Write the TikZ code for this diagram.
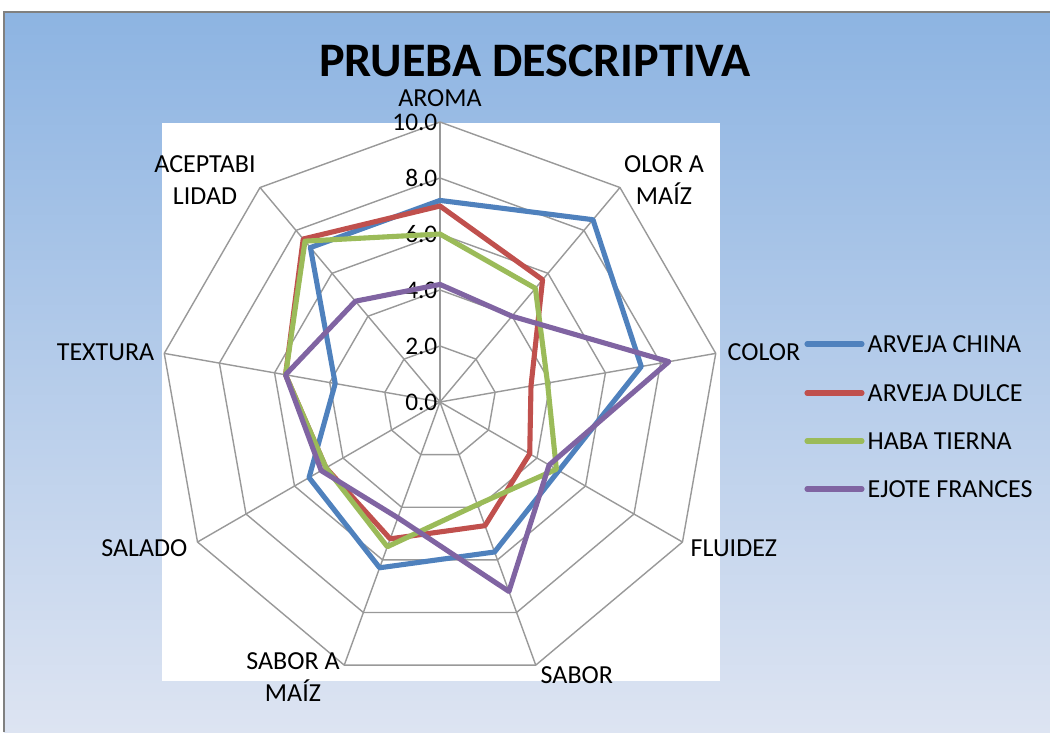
\documentclass[tikz,border=0pt]{standalone}
\usepackage{fontspec}
\setmainfont{Carlito}
\definecolor{azul}{HTML}{4F81BD}
\definecolor{rojo}{HTML}{C0504D}
\definecolor{verde}{HTML}{9BBB59}
\definecolor{morado}{HTML}{8064A2}
\definecolor{fondoarriba}{RGB}{141,180,226}
\definecolor{fondoabajo}{RGB}{221,228,242}
\tikzset{
    rejilla/.style={black!40, line width=0.4pt},
    serie/.style={line width=1.45pt, line join=round},
    eje/.style={font=\fontsize{7.4}{9.1}\selectfont, inner sep=0pt, align=center},
    escala/.style={font=\fontsize{7.2}{8}\selectfont, inner sep=0pt, anchor=east},
    leyenda/.style={font=\fontsize{7.4}{9}\selectfont, inner sep=0pt, anchor=west}
}
\begin{document}
\begin{tikzpicture}
    \def\u{0.28} % cm per unit of the scale
    \def\rmax{2.8} % radius of 10.0

    % frame and background
    \useasboundingbox (-4.40,-3.30) rectangle (6.10,4.02);
    \shade[top color=fondoarriba, bottom color=fondoabajo] (-4.36,-3.30) rectangle (6.10,3.90);
    \draw[black!50, line width=0.6pt] (-4.36,-3.30) -- (-4.36,3.90) -- (6.10,3.90);
    \fill[white] (-2.78,-2.79) rectangle (2.80,2.79);

    % grid
    \foreach \k in {0,...,8} {
        \draw[rejilla] (0,0) -- ({90-40*\k}:\rmax);
    }
    \foreach \v in {2,4,...,10} {
        \draw[rejilla] (90:{\v*\u}) \foreach \k in {1,...,8} { -- ({90-40*\k}:{\v*\u}) } -- cycle;
    }
    \foreach \v/\t in {0/0.0,2/2.0,4/4.0,6/6.0,8/8.0,10/10.0} {
        \node[escala] at (-0.02,{\v*\u}) {\t};
    }

    % axis labels
    \node[eje, text depth=0pt] (aroma) at (0,3.04) {AROMA};
    \node[eje] (olor) at (2.24,2.22) {OLOR A\\MAÍZ};
    \node[eje, anchor=west] (color) at (2.87,0.50) {COLOR};
    \node[eje, anchor=west] (fluidez) at (2.50,-1.46) {FLUIDEZ};
    \node[eje, anchor=west] (sabor) at (1.00,-2.73) {SABOR};
    \node[eje] (sabormaiz) at (-1.47,-2.75) {SABOR A\\MAÍZ};
    \node[eje, anchor=east] (salado) at (-2.52,-1.46) {SALADO};
    \node[eje, anchor=east] (textura) at (-2.85,0.50) {TEXTURA};
    \node[eje] (aceptab) at (-2.35,2.22) {ACEPTABI\\LIDAD};

    % title
    \node[font=\fontsize{13.7}{16}\selectfont\bfseries, inner sep=0pt, text depth=0pt, anchor=base] (titulo) at (0.95,3.26) {PRUEBA DESCRIPTIVA};

    % series
    \foreach \v [count=\k from 0] in {7.2,8.5,7.3,4.9,5.7,6.3,5.4,3.8,7.2} {
        \coordinate (az\k) at ({90-40*\k}:{\v*\u});
    }
    \draw[serie, azul] (az0) -- (az1) -- (az2) -- (az3) -- (az4) -- (az5) -- (az6) -- (az7) -- (az8) -- cycle;

    \foreach \v [count=\k from 0] in {7.0,5.7,3.3,3.7,4.7,5.2,4.7,5.6,7.6} {
        \coordinate (ro\k) at ({90-40*\k}:{\v*\u});
    }
    \draw[serie, rojo] (ro0) -- (ro1) -- (ro2) -- (ro3) -- (ro4) -- (ro5) -- (ro6) -- (ro7) -- (ro8) -- cycle;

    \foreach \v [count=\k from 0] in {6.0,5.3,3.9,4.8,3.9,5.5,4.7,5.6,7.5} {
        \coordinate (ve\k) at ({90-40*\k}:{\v*\u});
    }
    \draw[serie, verde] (ve0) -- (ve1) -- (ve2) -- (ve3) -- (ve4) -- (ve5) -- (ve6) -- (ve7) -- (ve8) -- cycle;

    \foreach \v [count=\k from 0] in {4.2,4.0,8.3,4.5,7.2,4.4,4.9,5.6,4.7} {
        \coordinate (mo\k) at ({90-40*\k}:{\v*\u});
    }
    \draw[serie, morado] (mo0) -- (mo1) -- (mo2) -- (mo3) -- (mo4) -- (mo5) -- (mo6) -- (mo7) -- (mo8) -- cycle;

    % legend
    \node[leyenda] (leyaz) at (4.27,0.58) {ARVEJA CHINA};
    \node[leyenda] (leyro) at (4.27,0.09) {ARVEJA DULCE};
    \node[leyenda] (leyve) at (4.27,-0.39) {HABA TIERNA};
    \node[leyenda] (leymo) at (4.27,-0.87) {EJOTE FRANCES};
    \draw[serie, azul, line cap=round] ([xshift=-0.05cm]leyaz.west) -- ++(-0.55,0);
    \draw[serie, rojo, line cap=round] ([xshift=-0.05cm]leyro.west) -- ++(-0.55,0);
    \draw[serie, verde, line cap=round] ([xshift=-0.05cm]leyve.west) -- ++(-0.55,0);
    \draw[serie, morado, line cap=round] ([xshift=-0.05cm]leymo.west) -- ++(-0.55,0);
\end{tikzpicture}
\end{document}
